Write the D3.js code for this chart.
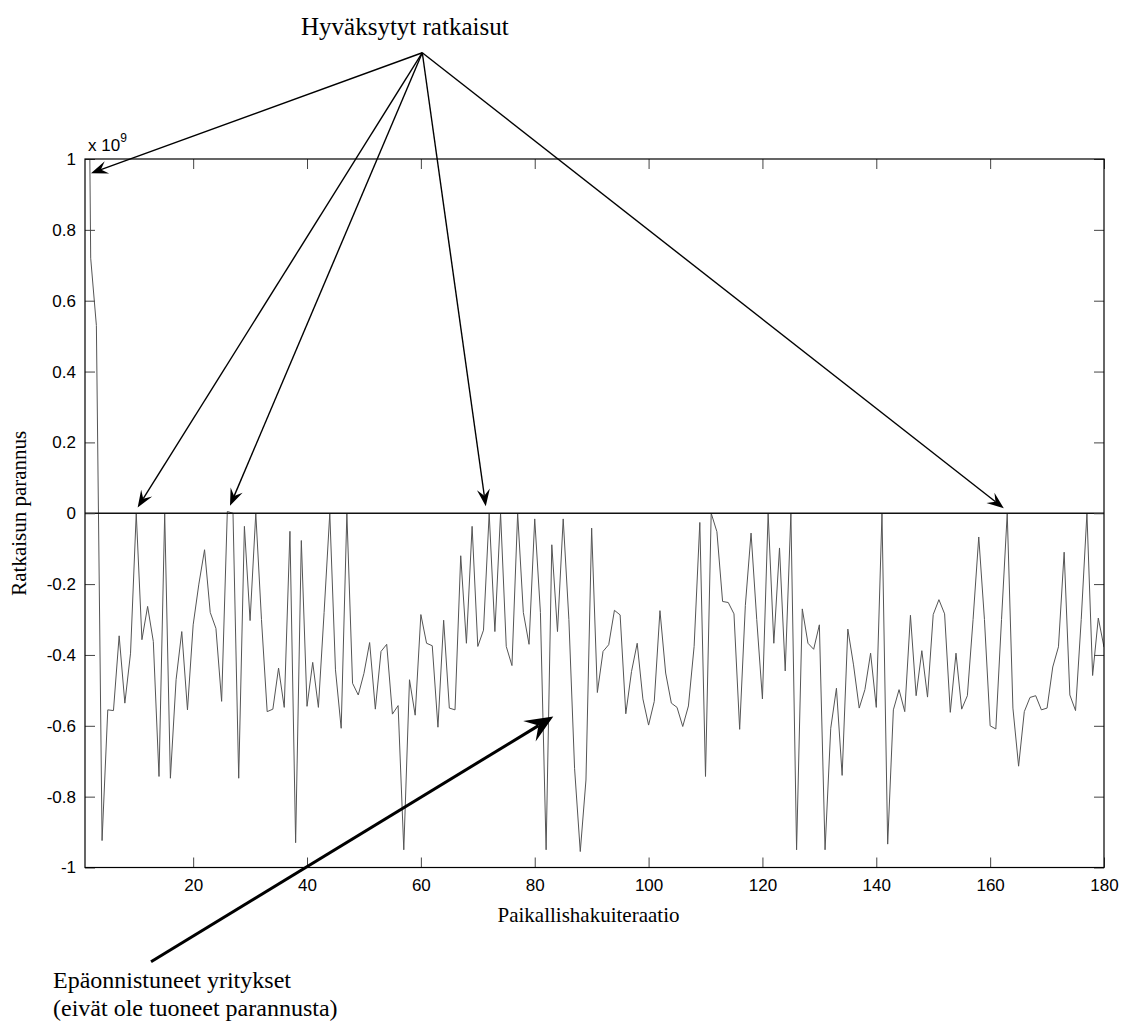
<!DOCTYPE html>
<html>
<head>
<meta charset="utf-8">
<script src="https://cdn.jsdelivr.net/npm/d3@7"></script>
<style>
  body { margin: 0; background: #fff; }
  svg text { fill: #000; }
  .tick text { font-family: "Liberation Sans", Arial, sans-serif; font-size: 17px; }
</style>
</head>
<body>
<svg id="chart"></svg>
<script>
'use strict';

// ratkaisun parannus (x 10^9) per paikallishakuiteraatio 1..180
var improvement = [
  2.6, 0.72, 0.53, -0.924, -0.555, -0.557, -0.346, -0.536, -0.395, 0,
  -0.357, -0.263, -0.362, -0.743, 0, -0.748, -0.47, -0.334, -0.555, -0.315,
  -0.2, -0.103, -0.28, -0.325, -0.531, 0.005, 0, -0.748, -0.037, -0.303,
  0, -0.3, -0.56, -0.553, -0.437, -0.548, -0.051, -0.93, -0.077, -0.545,
  -0.421, -0.548, -0.28, 0, -0.442, -0.607, 0, -0.48, -0.513, -0.452,
  -0.365, -0.553, -0.39, -0.37, -0.567, -0.543, -0.95, -0.47, -0.57, -0.286,
  -0.367, -0.374, -0.604, -0.302, -0.55, -0.555, -0.12, -0.367, -0.037, -0.376,
  -0.33, 0, -0.334, 0, -0.376, -0.43, 0, -0.28, -0.37, -0.016,
  -0.28, -0.95, -0.089, -0.334, -0.016, -0.3, -0.72, -0.955, -0.753, -0.042,
  -0.506, -0.39, -0.371, -0.274, -0.287, -0.566, -0.447, -0.367, -0.524, -0.598,
  -0.531, -0.275, -0.451, -0.536, -0.548, -0.602, -0.544, -0.376, -0.026, -0.743,
  0, -0.052, -0.249, -0.252, -0.284, -0.61, -0.26, -0.056, -0.3, -0.524,
  0, -0.367, -0.098, -0.445, 0, -0.95, -0.27, -0.367, -0.384, -0.315,
  -0.95, -0.607, -0.494, -0.74, -0.327, -0.428, -0.55, -0.498, -0.395, -0.548,
  0, -0.934, -0.555, -0.498, -0.56, -0.288, -0.515, -0.388, -0.519, -0.286,
  -0.244, -0.284, -0.562, -0.395, -0.553, -0.515, -0.3, -0.067, -0.3, -0.6,
  -0.609, -0.3, 0, -0.55, -0.714, -0.56, -0.52, -0.515, -0.555, -0.55,
  -0.434, -0.377, -0.11, -0.513, -0.557, -0.3, 0, -0.458, -0.296, -0.378
];
var xTicks = [20, 40, 60, 80, 100, 120, 140, 160, 180];
var yTicks = [-1, -0.8, -0.6, -0.4, -0.2, 0, 0.2, 0.4, 0.6, 0.8, 1];

// annotation arrows, in data units
var acceptedFrom = [60.25, 1.30];
var acceptedTips = [[2.05, 0.96], [10.25, 0.016], [26.47, 0.021], [71.4, 0.02], [162.4, 0.014]];
var failedArrow = [[12.6, -1.266], [83.26, -0.574]];

var width = 1123, height = 1025;
var plotLeft = 85, plotRight = 1104, plotTop = 159, plotBottom = 867.5;
var serif = '"Liberation Serif", "Times New Roman", serif';

var svg = d3.select('#chart')
  .attr('width', width)
  .attr('height', height);

var x = d3.scaleLinear().domain([1, 180]).range([plotLeft, plotRight]);
var y = d3.scaleLinear().domain([-1, 1]).range([plotBottom, plotTop]);

svg.append('defs').append('clipPath').attr('id', 'plotClip')
  .append('rect')
  .attr('x', plotLeft).attr('y', plotTop)
  .attr('width', plotRight - plotLeft).attr('height', plotBottom - plotTop);

// data line
var line = d3.line()
  .x((d, i) => x(i + 1))
  .y(d => y(d));

svg.append('path')
  .datum(improvement)
  .attr('clip-path', 'url(#plotClip)')
  .attr('d', line)
  .style('fill', 'none')
  .style('stroke', '#555')
  .style('stroke-width', 1);

// zero line
svg.append('line')
  .attr('x1', plotLeft).attr('x2', plotRight)
  .attr('y1', y(0)).attr('y2', y(0))
  .style('stroke', '#111')
  .style('stroke-width', 1.6);

// axes
function styleAxis(g) {
  g.select('.domain').remove();
  g.selectAll('.tick line').style('stroke', '#444');
}

svg.append('g')
  .attr('transform', 'translate(0,' + plotBottom + ')')
  .call(d3.axisBottom(x).tickValues(xTicks).tickSize(-10).tickSizeOuter(0).tickPadding(11))
  .call(styleAxis);
svg.append('g')
  .attr('transform', 'translate(0,' + plotTop + ')')
  .call(d3.axisTop(x).tickValues(xTicks).tickSize(-10).tickSizeOuter(0).tickFormat(''))
  .call(styleAxis);
svg.append('g')
  .attr('transform', 'translate(' + plotLeft + ',0)')
  .call(d3.axisLeft(y).tickValues(yTicks).tickSize(-10).tickSizeOuter(0).tickPadding(9)
    .tickFormat(d => d === 0 ? '0' : String(+d.toFixed(1))))
  .call(styleAxis);
svg.append('g')
  .attr('transform', 'translate(' + plotRight + ',0)')
  .call(d3.axisRight(y).tickValues(yTicks).tickSize(-10).tickSizeOuter(0).tickFormat(''))
  .call(styleAxis);

svg.selectAll('.tick text').style('fill', '#000');

// box
svg.append('rect')
  .attr('x', plotLeft).attr('y', plotTop)
  .attr('width', plotRight - plotLeft).attr('height', plotBottom - plotTop)
  .style('fill', 'none')
  .style('stroke', '#000')
  .style('stroke-width', 1.2);

// exponent
var expo = svg.append('text')
  .attr('x', plotLeft + 3).attr('y', plotTop - 8)
  .style('font-family', '"Liberation Sans", Arial, sans-serif')
  .style('font-size', '17px')
  .text('x 10');
expo.append('tspan')
  .attr('dy', -9)
  .style('font-size', '12px')
  .text('9');

// axis labels
svg.append('text')
  .attr('x', (plotLeft + plotRight) / 2 - 6).attr('y', 922)
  .attr('text-anchor', 'middle')
  .style('font-family', serif)
  .style('font-size', '21px')
  .text('Paikallishakuiteraatio');

svg.append('text')
  .attr('transform', 'translate(26,' + ((plotTop + plotBottom) / 2) + ') rotate(-90)')
  .attr('text-anchor', 'middle')
  .style('font-family', serif)
  .style('font-size', '21px')
  .text('Ratkaisun parannus');

// arrows
function arrow(p0, p1, len, half, lw) {
  var x0 = x(p0[0]), y0 = y(p0[1]), x1 = x(p1[0]), y1 = y(p1[1]);
  var dx = x1 - x0, dy = y1 - y0, d = Math.sqrt(dx * dx + dy * dy);
  var ux = dx / d, uy = dy / d, nx = -uy, ny = ux;
  var bx = x1 - ux * len, by = y1 - uy * len;
  var cx = x1 - ux * len * 0.62, cy = y1 - uy * len * 0.62;
  svg.append('line')
    .attr('x1', x0).attr('y1', y0)
    .attr('x2', cx).attr('y2', cy)
    .style('stroke', '#000')
    .style('stroke-width', lw);
  svg.append('path')
    .attr('d', 'M' + x1 + ',' + y1 +
      'L' + (bx + nx * half) + ',' + (by + ny * half) +
      'L' + cx + ',' + cy +
      'L' + (bx - nx * half) + ',' + (by - ny * half) + 'Z')
    .style('fill', '#000');
}

acceptedTips.forEach(t => arrow(acceptedFrom, t, 17, 6.5, 1.4));
arrow(failedArrow[0], failedArrow[1], 28, 12, 3);

// annotation texts
svg.append('text')
  .attr('x', 301).attr('y', 35)
  .style('font-family', serif)
  .style('font-size', '25px')
  .text('Hyväksytyt ratkaisut');

var failedNote = svg.append('text')
  .attr('x', 53).attr('y', 988)
  .style('font-family', serif)
  .style('font-size', '24px');
failedNote.append('tspan')
  .attr('x', 53)
  .text('Epäonnistuneet yritykset');
failedNote.append('tspan')
  .attr('x', 53).attr('dy', 28)
  .text('(eivät ole tuoneet parannusta)');
</script>
</body>
</html>
